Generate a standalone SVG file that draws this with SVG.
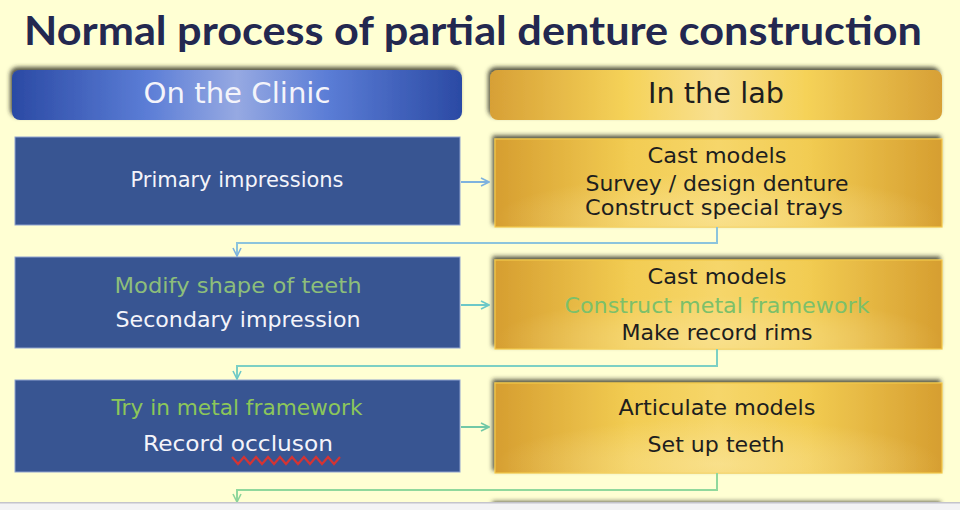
<svg xmlns="http://www.w3.org/2000/svg" width="960" height="510" viewBox="0 0 960 510">
<defs>
<linearGradient id="gBlue" x1="0" y1="0" x2="1" y2="0">
<stop offset="0" stop-color="#2B4AA4"/><stop offset="0.3" stop-color="#5B7DD6"/><stop offset="0.5" stop-color="#96A9E2"/><stop offset="0.7" stop-color="#5B7DD6"/><stop offset="1" stop-color="#2B4AA4"/>
</linearGradient>
<linearGradient id="gGold" x1="0" y1="0" x2="1" y2="0">
<stop offset="0" stop-color="#D7A036"/><stop offset="0.3" stop-color="#F5D258"/><stop offset="0.5" stop-color="#F8E090"/><stop offset="0.7" stop-color="#F5D258"/><stop offset="1" stop-color="#D7A036"/>
</linearGradient>
<linearGradient id="gBox" x1="0" y1="0" x2="1" y2="0">
<stop offset="0" stop-color="#D69E30"/><stop offset="0.3" stop-color="#F2CC52"/><stop offset="0.5" stop-color="#F6D66A"/><stop offset="0.7" stop-color="#F2CC52"/><stop offset="1" stop-color="#D69E30"/>
</linearGradient>
<radialGradient id="gGlow" cx="0.5" cy="0.9" r="0.5">
<stop offset="0" stop-color="#FAE6A0" stop-opacity="0.6"/><stop offset="1" stop-color="#FAE6A0" stop-opacity="0"/>
</radialGradient>
<filter id="sh" x="-5%" y="-30%" width="110%" height="160%">
<feDropShadow dx="-2" dy="-3" stdDeviation="2" flood-color="#2A2A20" flood-opacity="0.8"/>
</filter>
<marker id="aBlue" viewBox="0 0 10 10" refX="9" refY="5" markerWidth="10" markerHeight="10" markerUnits="userSpaceOnUse" orient="auto">
<path d="M1,1 L9,5 L1,9" fill="none" stroke="#7EB2DE" stroke-width="1.6"/>
</marker>
<marker id="aTeal" viewBox="0 0 10 10" refX="9" refY="5" markerWidth="10" markerHeight="10" markerUnits="userSpaceOnUse" orient="auto">
<path d="M1,1 L9,5 L1,9" fill="none" stroke="#6CC8C8" stroke-width="1.6"/>
</marker>
<marker id="aGreen" viewBox="0 0 10 10" refX="9" refY="5" markerWidth="10" markerHeight="10" markerUnits="userSpaceOnUse" orient="auto">
<path d="M1,1 L9,5 L1,9" fill="none" stroke="#72C8A6" stroke-width="1.6"/>
</marker>
<marker id="aLgreen" viewBox="0 0 10 10" refX="9" refY="5" markerWidth="10" markerHeight="10" markerUnits="userSpaceOnUse" orient="auto">
<path d="M1,1 L9,5 L1,9" fill="none" stroke="#8ED49A" stroke-width="1.6"/>
</marker>
</defs>
<style>
.t{font-family:"DejaVu Sans","Liberation Sans",sans-serif;font-size:21px;text-anchor:middle}
.w{fill:#F4F4FA}
.k{fill:#1E1E1E}
.g1{fill:#8DBE7A}
.g2{fill:#7CC06A}
.g3{fill:#8CC65A}
.blue{fill:#385592;stroke:#8FA3CF;stroke-width:1}
.gold{fill:url(#gBox);stroke:#F2C84A;stroke-width:1.2}
.c{fill:none;stroke-width:2}
</style>
<rect width="960" height="510" fill="#FFFFD3"/>
<text x="24" y="45" textLength="898" lengthAdjust="spacingAndGlyphs" style="font-family:Lato,'Open Sans',sans-serif;font-weight:700;font-size:40px;fill:#232850">Normal process of partial denture construction</text>

<g id="hdr-clinic">
<rect x="12" y="70" width="450" height="50" rx="8" fill="url(#gBlue)" filter="url(#sh)"/>
<text class="t w" x="237" y="103" style="font-size:29px" textLength="187" lengthAdjust="spacingAndGlyphs">On the Clinic</text>
</g>
<g id="hdr-lab">
<rect x="490" y="70" width="452" height="50" rx="8" fill="url(#gGold)" filter="url(#sh)"/>
<text class="t k" x="716" y="103" style="font-size:29px" textLength="136" lengthAdjust="spacingAndGlyphs">In the lab</text>
</g>

<g id="c1">
<rect class="blue" x="15" y="137" width="445" height="88"/>
<text class="t w" x="237" y="187" textLength="213" lengthAdjust="spacingAndGlyphs">Primary impressions</text>
</g>
<g id="l1">
<rect class="gold" x="495" y="139" width="447" height="88" filter="url(#sh)"/>
<rect x="495" y="139" width="447" height="88" fill="url(#gGlow)"/>
<text class="t k" x="717" y="163" textLength="139" lengthAdjust="spacingAndGlyphs">Cast models</text>
<text class="t k" x="717" y="191" textLength="263" lengthAdjust="spacingAndGlyphs">Survey / design denture</text>
<text class="t k" x="714" y="215" textLength="258" lengthAdjust="spacingAndGlyphs">Construct special trays</text>
</g>

<g id="c2">
<rect class="blue" x="15" y="257" width="445" height="91"/>
<text class="t g1" x="238" y="293" textLength="247" lengthAdjust="spacingAndGlyphs">Modify shape of teeth</text>
<text class="t w" x="238" y="327" textLength="245" lengthAdjust="spacingAndGlyphs">Secondary impression</text>
</g>
<g id="l2">
<rect class="gold" x="495" y="260" width="447" height="89" filter="url(#sh)"/>
<rect x="495" y="260" width="447" height="89" fill="url(#gGlow)"/>
<text class="t k" x="717" y="284" textLength="139" lengthAdjust="spacingAndGlyphs">Cast models</text>
<text class="t g2" x="717" y="313" textLength="305" lengthAdjust="spacingAndGlyphs">Construct metal framework</text>
<text class="t k" x="717" y="340" textLength="191" lengthAdjust="spacingAndGlyphs">Make record rims</text>
</g>

<g id="c3">
<rect class="blue" x="15" y="380" width="445" height="92"/>
<text class="t g3" x="237" y="415" textLength="251" lengthAdjust="spacingAndGlyphs">Try in metal framework</text>
<text class="t w" x="238" y="451" textLength="190" lengthAdjust="spacingAndGlyphs">Record occluson</text>
<path d="M232,457 l6,7 l6,-7 l6,7 l6,-7 l6,7 l6,-7 l6,7 l6,-7 l6,7 l6,-7 l6,7 l6,-7 l6,7 l6,-7 l6,7 l6,-7 l6,7 l6,-7" fill="none" stroke="#D43434" stroke-width="2.2"/>
</g>
<g id="l3">
<rect class="gold" x="495" y="383" width="447" height="90" filter="url(#sh)"/>
<rect x="495" y="383" width="447" height="90" fill="url(#gGlow)"/>
<text class="t k" x="717" y="415" textLength="197" lengthAdjust="spacingAndGlyphs">Articulate models</text>
<text class="t k" x="716" y="452" textLength="137" lengthAdjust="spacingAndGlyphs">Set up teeth</text>
</g>

<g id="l4">
<rect class="gold" x="495" y="505" width="447" height="90" filter="url(#sh)"/>
</g>

<g id="connectors">
<path class="c" d="M461,182 H489" stroke="#7EB2DE" marker-end="url(#aBlue)"/>
<path class="c" d="M717,227 V243 H237 V256" stroke="#8CC4DC" marker-end="url(#aBlue)"/>
<path class="c" d="M461,305 H489" stroke="#6CC8C8" marker-end="url(#aTeal)"/>
<path class="c" d="M717,349 V366 H237 V379" stroke="#7CD0C4" marker-end="url(#aTeal)"/>
<path class="c" d="M461,427 H489" stroke="#72C8A6" marker-end="url(#aGreen)"/>
<path class="c" d="M717,473 V490 H237 V502" stroke="#90D89C" marker-end="url(#aLgreen)"/>
</g>

<rect x="0" y="502" width="960" height="8" fill="#F3F3F5"/>
<rect x="0" y="502" width="960" height="1.5" fill="#C4C4CC"/>
</svg>
